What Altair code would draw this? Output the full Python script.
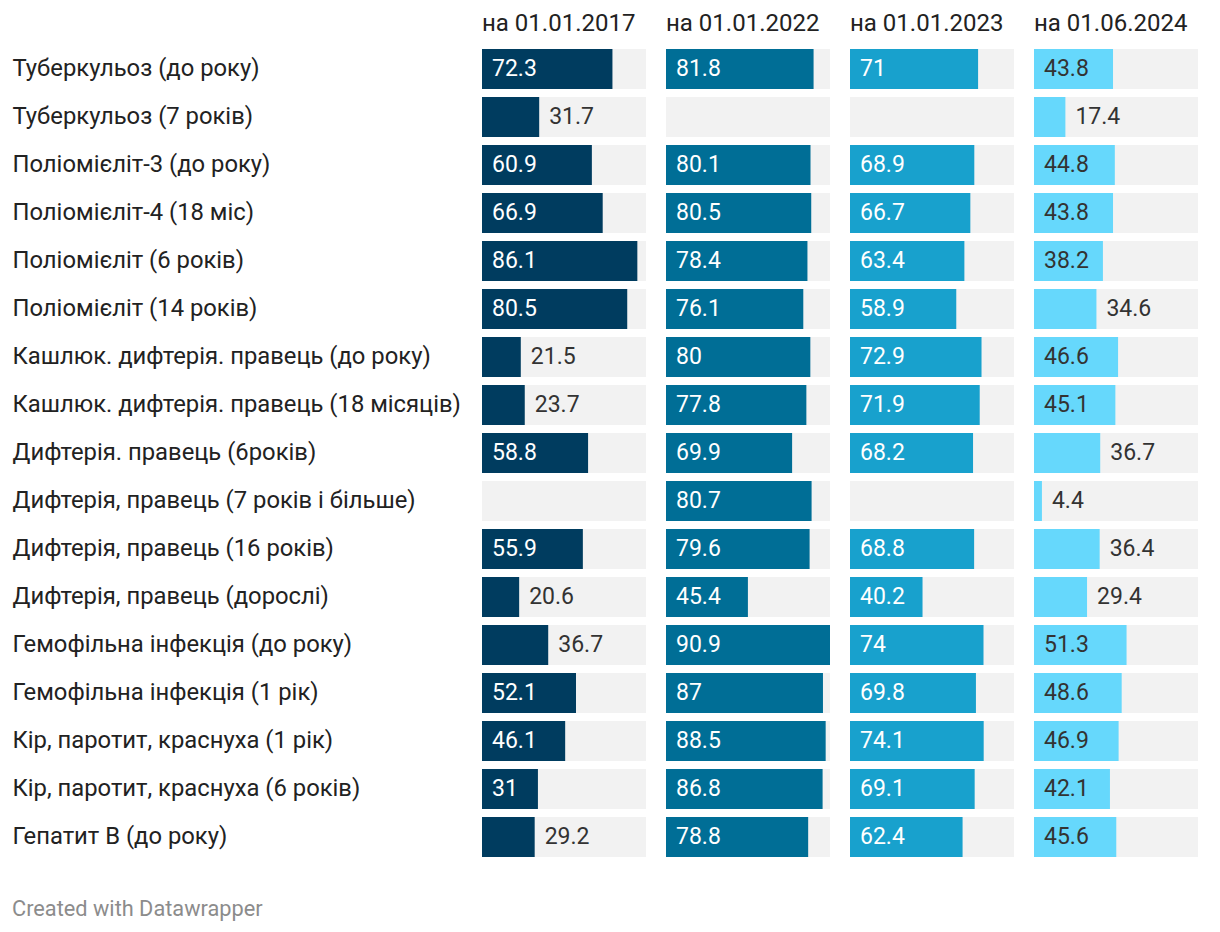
import altair as alt
import pandas as pd

categories = [
    "Туберкульоз (до року)",
    "Туберкульоз (7 років)",
    "Поліомієліт-3 (до року)",
    "Поліомієліт-4 (18 міс)",
    "Поліомієліт (6 років)",
    "Поліомієліт (14 років)",
    "Кашлюк. дифтерія. правець (до року)",
    "Кашлюк. дифтерія. правець (18 місяців)",
    "Дифтерія. правець (6років)",
    "Дифтерія, правець (7 років і більше)",
    "Дифтерія, правець (16 років)",
    "Дифтерія, правець (дорослі)",
    "Гемофільна інфекція (до року)",
    "Гемофільна інфекція (1 рік)",
    "Кір, паротит, краснуха (1 рік)",
    "Кір, паротит, краснуха (6 років)",
    "Гепатит В (до року)",
]

periods = ["на 01.01.2017", "на 01.01.2022", "на 01.01.2023", "на 01.06.2024"]

v2017 = [72.3, 31.7, 60.9, 66.9, 86.1, 80.5, 21.5, 23.7, 58.8, None, 55.9, 20.6, 36.7, 52.1, 46.1, 31, 29.2]
v2022 = [81.8, None, 80.1, 80.5, 78.4, 76.1, 80, 77.8, 69.9, 80.7, 79.6, 45.4, 90.9, 87, 88.5, 86.8, 78.8]
v2023 = [71, None, 68.9, 66.7, 63.4, 58.9, 72.9, 71.9, 68.2, None, 68.8, 40.2, 74, 69.8, 74.1, 69.1, 62.4]
v2024 = [43.8, 17.4, 44.8, 43.8, 38.2, 34.6, 46.6, 45.1, 36.7, 4.4, 36.4, 29.4, 51.3, 48.6, 46.9, 42.1, 45.6]

series = [v2017, v2022, v2023, v2024]
bar_colors = ["#003c5f", "#006e96", "#18a1cd", "#66d8fc"]
inside_text = ["#ffffff", "#ffffff", "#ffffff", "#333333"]

rows = []
for p, vals in zip(periods, series):
    for c, v in zip(categories, vals):
        rows.append({"cat": c, "period": p, "value": v})
df = pd.DataFrame(rows)

vmax = max(v for s in series for v in s if v is not None)
FONT = "Roboto"
PW = 164
VFS = 23
px_per_unit = PW / vmax

# label fits inside the bar if bar length >= estimated text width + paddings
fit_expr = (
    f"isValid(datum.value) && (datum.value * {px_per_unit}) >= "
    f"((length(datum.lbl) - (indexof(datum.lbl, '.') >= 0 ? 1 : 0)) * {0.5615 * VFS}"
    f" + (indexof(datum.lbl, '.') >= 0 ? {0.263 * VFS} : 0) + 22)"
)

y_scale = alt.Scale(domain=categories, paddingInner=8 / 48, paddingOuter=0)
x_scale = alt.Scale(domain=[0, vmax], nice=False, zero=True)

panels = []
for i, (p, col, tcol) in enumerate(zip(periods, bar_colors, inside_text)):
    if i == 0:
        yaxis = alt.Axis(
            title=None, domain=False, ticks=False, labelAlign="left",
            labelPadding=470, labelFont=FONT, labelFontSize=23.8,
            labelColor="#222222", labelLimit=465,
        )
    else:
        yaxis = None
    base = alt.Chart(df).transform_filter(alt.datum.period == p)
    bg = base.transform_calculate(full=str(vmax)).mark_bar(color="#f2f2f2").encode(
        y=alt.Y("cat:N", scale=y_scale, axis=yaxis, sort=categories),
        x=alt.X("full:Q", scale=x_scale, axis=None),
    )
    bars = base.transform_filter("isValid(datum.value)").mark_bar(color=col).encode(
        y=alt.Y("cat:N", scale=y_scale, sort=categories),
        x=alt.X("value:Q", scale=x_scale, axis=None),
    )
    labelled = base.transform_filter("isValid(datum.value)").transform_calculate(
        lbl="format(datum.value, '~r')"
    )
    inside = labelled.transform_filter(fit_expr).transform_calculate(zero="0").mark_text(
        align="left", baseline="middle", dx=10, font=FONT, fontSize=VFS, color=tcol
    ).encode(
        y=alt.Y("cat:N", scale=y_scale, sort=categories),
        x=alt.X("zero:Q", scale=x_scale, axis=None),
        text=alt.Text("lbl:N"),
    )
    outside = labelled.transform_filter(f"!({fit_expr})").mark_text(
        align="left", baseline="middle", dx=10, font=FONT, fontSize=VFS, color="#333333"
    ).encode(
        y=alt.Y("cat:N", scale=y_scale, sort=categories),
        x=alt.X("value:Q", scale=x_scale, axis=None),
        text=alt.Text("lbl:N"),
    )
    panel = alt.layer(bg, bars, inside, outside).properties(
        width=PW, height=808,
        title=alt.TitleParams(
            text=p, anchor="start", frame="group", font=FONT, fontSize=24,
            fontWeight="normal", color="#222222", offset=13,
        ),
    )
    panels.append(panel)

chart = alt.hconcat(*panels, spacing=20).properties(
    title=alt.TitleParams(
        text="Created with Datawrapper", orient="bottom", anchor="start",
        frame="bounds", font=FONT, fontSize=21.75, fontWeight="normal",
        color="#8c8c8c", offset=42,
    ),
    padding={"left": 4, "top": 4, "right": 4, "bottom": 4},
).configure_view(stroke=None).configure_concat(spacing=20)

chart.save("out.html", embed_options={"renderer": "svg", "actions": False})
